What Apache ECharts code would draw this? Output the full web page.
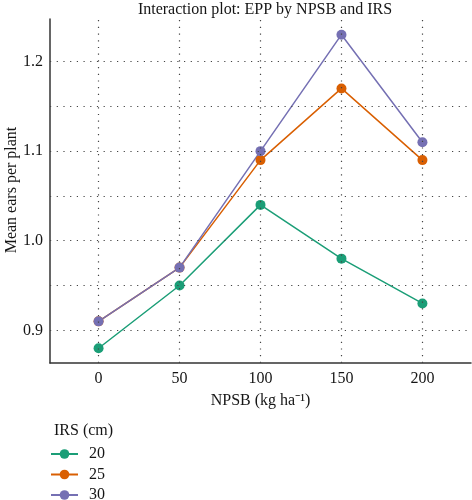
<!DOCTYPE html>
<html lang="en">
<head>
<meta charset="UTF-8">
<title>Interaction plot</title>
<script src="https://cdn.jsdelivr.net/npm/echarts@6/dist/echarts.min.js"></script>
<style>
  html, body { margin: 0; padding: 0; background: #fff; }
  #main { width: 472px; height: 500px; }
</style>
</head>
<body>
<div id="main"></div>
<script>
// data
var npsb = [0, 50, 100, 150, 200];
var irs20 = [0.88, 0.95, 1.04, 0.98, 0.93];
var irs25 = [0.91, 0.97, 1.09, 1.17, 1.09];
var irs30 = [0.91, 0.97, 1.10, 1.23, 1.11];
var irsNames = ['20', '25', '30'];
var colors = ['#1b9e77', '#d95f02', '#7570b3'];
// gridline positions
var xGrid = [0, 50, 100, 150, 200];
var yGrid = [0.9, 0.95, 1.0, 1.05, 1.1, 1.15, 1.2];

var font = 'Liberation Serif';
var txt = '#151515';
var myChart = echarts.init(document.getElementById('main'));

function pairs(ys) {
  return npsb.map(function (x, i) { return [x, ys[i]]; });
}

var gridLines = [];
xGrid.forEach(function (v) { gridLines.push({ xAxis: v }); });
yGrid.forEach(function (v) { gridLines.push({ yAxis: v }); });

var series = [{
  name: 'grid',
  type: 'line',
  data: [],
  z: 1,
  silent: true,
  markLine: {
    silent: true,
    symbol: 'none',
    label: { show: false },
    lineStyle: { color: '#444', width: 1.2, type: [1.2, 5.5] },
    animation: false,
    data: gridLines
  }
}];
[irs20, irs25, irs30].forEach(function (ys, i) {
  series.push({
    name: irsNames[i],
    type: 'line',
    data: pairs(ys),
    z: 3,
    symbol: 'circle',
    symbolSize: 10,
    color: colors[i],
    lineStyle: { width: 1.5, color: colors[i] },
    itemStyle: { color: colors[i] }
  });
});

var option = {
  animation: false,
  textStyle: { fontFamily: font, color: txt },
  title: [{
    text: 'Interaction plot: EPP by NPSB and IRS',
    left: 260, top: -3, textAlign: 'center',
    textStyle: { fontFamily: font, fontWeight: 'normal', fontSize: 16, color: txt }
  }, {
    text: 'IRS (cm)',
    left: 49, top: 418,
    textStyle: { fontFamily: font, fontWeight: 'normal', fontSize: 16, color: txt }
  }],
  // y axis title, placed by hand
  graphic: [{
    type: 'text',
    x: 12, y: 190,
    rotation: Math.PI / 2,
    style: {
      text: 'Mean ears per plant',
      font: '16px "Liberation Serif"',
      fill: txt,
      textAlign: 'center',
      textVerticalAlign: 'middle'
    }
  }],
  legend: {
    data: irsNames,
    orient: 'vertical',
    left: 50, top: 446, height: 90,
    padding: 0,
    itemWidth: 27, itemHeight: 12, itemGap: 4.5,
    textStyle: { fontFamily: font, fontSize: 16, lineHeight: 14, color: txt, padding: [0, 0, 0, 6] }
  },
  grid: { left: 50, right: 1, top: 19, bottom: 137, outerBoundsMode: 'none' },
  xAxis: {
    type: 'value',
    min: -30, max: 230,
    name: 'NPSB (kg ha\u207B\u00B9)',
    nameLocation: 'middle',
    nameGap: 30,
    nameTextStyle: { fontFamily: font, fontSize: 16, color: txt },
    axisLine: { onZero: false, lineStyle: { color: '#333', width: 1.5 } },
    axisTick: { show: false },
    splitLine: { show: false },
    axisLabel: {
      showMinLabel: false, showMaxLabel: false,
      fontFamily: font, fontSize: 16, color: txt, margin: 8,
      formatter: function (v) { return xGrid.indexOf(v) >= 0 ? String(v) : ''; }
    }
  },
  yAxis: {
    type: 'value',
    min: 0.8635, max: 1.2475,
    axisLine: { show: true, onZero: false, lineStyle: { color: '#333', width: 1.5 } },
    axisTick: { show: false },
    splitLine: { show: false },
    axisLabel: {
      showMinLabel: false, showMaxLabel: false,
      fontFamily: font, fontSize: 16, color: txt, margin: 7,
      formatter: function (v) {
        var r = Math.round(v * 10) / 10;
        return Math.abs(r - v) < 1e-6 ? r.toFixed(1) : '';
      }
    }
  },
  series: series
};
myChart.setOption(option);
</script>
</body>
</html>
